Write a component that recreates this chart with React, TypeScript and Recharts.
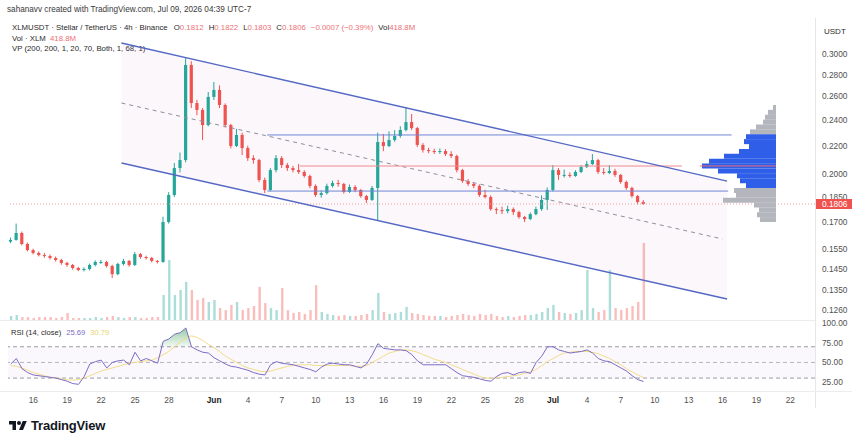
import React from 'react';
import {
  ComposedChart,
  BarChart,
  Bar,
  Line,
  Area,
  XAxis,
  YAxis,
  ReferenceLine,
  ReferenceArea,
  Cell,
} from 'recharts';

// 12h candles, time in days from May 16
const START_DAY = -2;
const STEP_DAYS = 0.5;
const FIRST_OPEN = 0.159;

const closes = [
  0.1599, 0.1637, 0.1577, 0.1545, 0.153, 0.1519, 0.1514, 0.1504, 0.1494, 0.1479,
  0.1469, 0.1454, 0.1444, 0.1449, 0.1469, 0.1484, 0.1484, 0.1464, 0.1424, 0.1474,
  0.1489, 0.1469, 0.1524, 0.1509, 0.1504, 0.1489, 0.1484, 0.1699, 0.1862, 0.204,
  0.2096, 0.2893, 0.2543, 0.2484, 0.236, 0.2596, 0.2658, 0.2526, 0.236, 0.2198,
  0.2282, 0.2183, 0.211, 0.2096, 0.1959, 0.1894, 0.2026, 0.211, 0.2061, 0.204,
  0.2026, 0.2013, 0.1986, 0.192, 0.1862, 0.1874, 0.192, 0.1939, 0.1933, 0.1881,
  0.1913, 0.1894, 0.1855, 0.1831, 0.1907, 0.2228, 0.2198, 0.2243, 0.2274, 0.2321,
  0.2384, 0.2336, 0.2206, 0.2168, 0.2161, 0.2154, 0.2161, 0.2139, 0.2125, 0.2026,
  0.1952, 0.1933, 0.192, 0.1862, 0.1849, 0.1775, 0.1769, 0.1763, 0.1775, 0.1757,
  0.1728, 0.1716, 0.1745, 0.1775, 0.1831, 0.1894, 0.2026, 0.1993, 0.1993, 0.1986,
  0.2013, 0.2047, 0.2068, 0.2096, 0.2013, 0.2006, 0.202, 0.1993, 0.1946, 0.1907,
  0.1855, 0.1818, 0.1806,
];

const highs = [
  0.1612, 0.169, 0.1645, 0.1585, 0.1552, 0.1538, 0.153, 0.1522, 0.1512, 0.15,
  0.1485, 0.1474, 0.146, 0.1457, 0.1476, 0.1492, 0.1494, 0.149, 0.147, 0.148,
  0.15, 0.1494, 0.1535, 0.153, 0.1516, 0.151, 0.1494, 0.173, 0.188, 0.2075,
  0.215, 0.2962, 0.293, 0.257, 0.25, 0.264, 0.2731, 0.27, 0.254, 0.237,
  0.233, 0.23, 0.22, 0.213, 0.2105, 0.1975, 0.204, 0.2132, 0.2125, 0.2075,
  0.2055, 0.2068, 0.2025, 0.1995, 0.193, 0.189, 0.1935, 0.1955, 0.196, 0.194,
  0.193, 0.1925, 0.19, 0.1862, 0.192, 0.23, 0.229, 0.231, 0.232, 0.235,
  0.2509, 0.245, 0.2345, 0.222, 0.2185, 0.2178, 0.218, 0.2175, 0.216, 0.2135,
  0.2035, 0.1965, 0.1945, 0.193, 0.1895, 0.186, 0.1785, 0.179, 0.1795, 0.1785,
  0.1765, 0.1735, 0.1755, 0.179, 0.186, 0.191, 0.2061, 0.204, 0.203, 0.201,
  0.2025, 0.206, 0.209, 0.2139, 0.2105, 0.204, 0.206, 0.2035, 0.2, 0.1955,
  0.1915, 0.1862, 0.183,
];

const lows = [
  0.1582, 0.1595, 0.157, 0.1538, 0.1522, 0.1512, 0.1505, 0.1496, 0.1486, 0.147,
  0.146, 0.1446, 0.1438, 0.1437, 0.1442, 0.1462, 0.1474, 0.1456, 0.1405, 0.1418,
  0.1466, 0.146, 0.1464, 0.15, 0.1496, 0.1482, 0.1476, 0.148, 0.169, 0.185,
  0.201, 0.208, 0.25, 0.244, 0.2243, 0.235, 0.257, 0.25, 0.234, 0.218,
  0.219, 0.2132, 0.209, 0.207, 0.1945, 0.1874, 0.1885, 0.201, 0.204, 0.202,
  0.201, 0.2, 0.1975, 0.1905, 0.185, 0.1845, 0.1865, 0.191, 0.1915, 0.187,
  0.1875, 0.188, 0.1845, 0.1812, 0.1825, 0.171, 0.216, 0.219, 0.223, 0.226,
  0.231, 0.232, 0.219, 0.215, 0.2145, 0.214, 0.214, 0.2125, 0.211, 0.201,
  0.194, 0.192, 0.1905, 0.185, 0.184, 0.1765, 0.1745, 0.1745, 0.175, 0.174,
  0.1718, 0.1699, 0.171, 0.1738, 0.1765, 0.177, 0.1885, 0.196, 0.1975, 0.1975,
  0.198, 0.2005, 0.204, 0.206, 0.2, 0.1995, 0.1998, 0.198, 0.1935, 0.1895,
  0.1845, 0.1803, 0.18,
];

// volume in millions of XLM
const volumes = [
  22, 27, 16, 16, 11, 16, 16, 16, 11, 16, 38, 11, 11, 11, 11, 16, 11, 16, 22, 16,
  11, 16, 16, 11, 11, 16, 16, 136, 326, 136, 163, 207, 163, 109, 120, 98, 109, 65, 54, 82,
  98, 54, 65, 76, 180, 92, 65, 54, 174, 54, 38, 44, 33, 54, 190, 44, 33, 27, 22, 27,
  22, 22, 27, 33, 54, 147, 44, 33, 38, 44, 71, 38, 33, 27, 22, 22, 22, 16, 22, 27,
  33, 27, 22, 33, 27, 33, 22, 16, 22, 16, 22, 27, 27, 33, 44, 65, 82, 44, 38, 33,
  38, 54, 272, 65, 44, 54, 272, 65, 54, 65, 76, 98, 418.8,
];

const rsiValues = [
  48, 55, 42, 37, 34, 33, 32, 31, 30, 28, 26, 23, 22, 32, 48, 51, 53, 43, 50, 52,
  53, 47, 63, 52, 55, 52, 49, 77, 80, 86, 88, 94, 70, 66, 63, 62, 56, 52, 48, 45,
  44, 42, 40, 37, 35, 34, 47, 51, 49, 48, 47, 45, 43, 41, 38, 44, 48, 49, 48, 47,
  47, 45, 43, 48, 60, 74, 68, 67, 66, 66, 65, 60, 52, 47, 47, 47, 47, 47, 42, 37,
  33, 32, 31, 29, 27, 26, 32, 36, 37, 34, 37, 38, 36, 50, 58, 70, 70, 66, 64, 62,
  63, 64, 66, 62, 55, 52, 51, 47, 43, 39, 33, 28, 25.69,
];

const rsiMaValues = [
  46, 45, 43, 40, 37, 35, 33, 31, 30, 29, 28, 27.5, 28, 30, 33, 36, 39, 41, 43, 45,
  47, 49, 50, 51, 52, 53, 56, 60, 64, 70, 76, 81, 84, 82, 78, 73, 69, 64, 58, 54,
  50, 46, 43, 41, 39, 38, 39, 41, 43, 45, 46, 47, 47, 47, 46, 46, 46, 46, 46, 46,
  46, 45, 45, 46, 50, 54, 58, 62, 64, 66, 66, 65, 63, 60, 57, 54, 52, 50, 47, 44,
  41, 38, 35, 32, 30, 30, 30, 31, 32, 33, 34, 36, 38, 41, 46, 51, 55, 59, 62, 63,
  64, 64, 64, 63, 61, 58, 55, 51, 47, 42, 38, 34, 30.79,
];

const dayTicks = [0, 3, 6, 9, 12, 16, 19, 22, 25, 28, 31, 34, 37, 40, 43, 46, 49, 52, 55, 58, 61, 64, 67];
const dayLabels = ['16', '19', '22', '25', '28', 'Jun', '4', '7', '10', '13', '16', '19', '22', '25', '28', 'Jul', '4', '7', '10', '13', '16', '19', '22'];

const LAST_PRICE = 0.1806;
const priceTicks = [0.3, 0.28, 0.26, 0.24, 0.22, 0.2, 0.185, LAST_PRICE, 0.17, 0.155, 0.145, 0.135, 0.126];
const rsiTicks = [25, 50, 75, 100];

// drawings: channel (day, price)
const channelTop = [{ x: 7.8, y: 0.3117 }, { x: 61.4, y: 0.1952 }];
const channelBottom = [{ x: 7.8, y: 0.2075 }, { x: 61.4, y: 0.1309 }];
const channelMid = [{ x: 7.8, y: 0.2543 }, { x: 61.0, y: 0.1604 }];
const levelHigh = { price: 0.2282, from: 20.7, to: 61.8 };
const levelMid = { price: 0.2054, from: 23.6, to: 57.4 };
const levelLow = { price: 0.1887, from: 20.7, to: 61.5 };

// volume profile rows, top to bottom
const vpPrices = [
  '0.2506', '0.2464', '0.2424', '0.2384', '0.2345', '0.2307', '0.2269', '0.2232',
  '0.2195', '0.2159', '0.2124', '0.2089', '0.2055', '0.2021', '0.1988', '0.1956',
  '0.1924', '0.1892', '0.1861', '0.1831', '0.1800', '0.1771', '0.1742', '0.1713',
];
const vpVolumes = [3, 8, 11, 13, 20, 26, 30, 32, 27, 37, 52, 67, 74, 58, 39, 36, 30, 42, 40, 53, 22, 17, 19, 16];
const vpInValueArea = [0, 0, 0, 0, 0, 0, 1, 1, 1, 1, 1, 1, 1, 1, 1, 1, 1, 0, 0, 0, 0, 0, 0, 0];
const VP_POC = '0.2055';

const X_DOMAIN = [-2.24, 69.18];
const PRICE_DOMAIN = [0.1219, 0.3392];
const UP = '#26a69a';
const DOWN = '#ef5350';
const FONT = '"Liberation Sans", Arial, sans-serif';

const data = closes.map((c, i) => ({
  t: START_DAY + i * STEP_DAYS,
  o: i === 0 ? FIRST_OPEN : closes[i - 1],
  h: highs[i],
  l: lows[i],
  c,
  vol: volumes[i],
  rsi: rsiValues[i],
  rsiMa: rsiMaValues[i],
}));

const vpData = vpPrices.map((p, i) => ({ price: p, vol: vpVolumes[i], va: vpInValueArea[i] }));

function Candle(props: any) {
  const { x, y, width, height, payload } = props;
  if (!payload || height == null) return null;
  const top = height < 0 ? y + height : y;
  const span = Math.abs(height);
  const { o, h, l, c } = payload;
  const color = c >= o ? UP : DOWN;
  const lh = Math.log(h);
  const ll = Math.log(l);
  const toY = (p: number) => top + ((lh - Math.log(p)) / (lh - ll)) * span;
  const bTop = toY(Math.max(o, c));
  const bBot = toY(Math.min(o, c));
  const cx = x + width / 2;
  return (
    <g>
      <line x1={cx} x2={cx} y1={top} y2={top + span} stroke={color} strokeWidth={1} />
      <rect x={x} y={bTop} width={width} height={Math.max(1, bBot - bTop)} fill={color} />
    </g>
  );
}

function ChannelFill(props: any) {
  const { x, y, width, height } = props;
  const lt = Math.log(channelTop[0].y);
  const lb = Math.log(channelBottom[1].y);
  const toY = (p: number) => y + ((lt - Math.log(p)) / (lt - lb)) * height;
  const pts = [
    [x, y],
    [x + width, toY(channelTop[1].y)],
    [x + width, y + height],
    [x, toY(channelBottom[0].y)],
  ];
  return <polygon points={pts.map((p) => p.join(',')).join(' ')} fill="rgba(214, 170, 214, 0.09)" />;
}

function PriceTick(props: any) {
  const { x, y, payload } = props;
  const v = payload.value as number;
  if (v === LAST_PRICE) {
    return (
      <g>
        <rect x={x - 6} y={y - 5} width={36} height={10} fill="#ef5350" />
        <text x={x} y={y} dy="0.35em" fontSize={8.3} fill="#ffffff" fontFamily={FONT}>
          {v.toFixed(4)}
        </text>
      </g>
    );
  }
  return (
    <text x={x} y={y} dy="0.35em" fontSize={8.3} fill="#505050" fontFamily={FONT}>
      {v.toFixed(4)}
    </text>
  );
}

function DateTick(props: any) {
  const { x, y, payload } = props;
  const idx = dayTicks.indexOf(payload.value);
  const label = dayLabels[idx] ?? '';
  const bold = label === 'Jun' || label === 'Jul';
  return (
    <text x={x} y={y} dy="0.71em" textAnchor="middle" fontSize={8.3} fill={bold ? '#222' : '#505050'} fontWeight={bold ? 700 : 400} fontFamily={FONT}>
      {label}
    </text>
  );
}

const red = { color: '#ec6f74' };

export default function App() {
  return (
    <div style={{ position: 'absolute', left: 0, top: 0, width: 860, height: 447, background: '#fff', overflow: 'hidden', fontFamily: FONT }}>
      {/* header */}
      <div style={{ position: 'absolute', left: 7, top: 5, fontSize: 8.2, color: '#3a3a3a', whiteSpace: 'nowrap' }}>
        sahanavv created with TradingView.com, Jul 09, 2026 04:39 UTC-7
      </div>
      <div style={{ position: 'absolute', left: 12, top: 23, fontSize: 7.8, color: '#2a2a2a', whiteSpace: 'nowrap' }}>
        XLMUSDT · Stellar / TetherUS · 4h · Binance
        <span style={{ marginLeft: 6 }}>O</span><span style={red}>0.1812</span>
        <span style={{ marginLeft: 5 }}>H</span><span style={red}>0.1822</span>
        <span style={{ marginLeft: 5 }}>L</span><span style={red}>0.1803</span>
        <span style={{ marginLeft: 5 }}>C</span><span style={red}>0.1806</span>
        <span style={{ marginLeft: 5, ...red }}>−0.0007 (−0.39%)</span>
        <span style={{ marginLeft: 5 }}>Vol</span><span style={red}>418.8M</span>
      </div>
      <div style={{ position: 'absolute', left: 12, top: 34, fontSize: 7.8, color: '#2a2a2a', whiteSpace: 'nowrap' }}>
        Vol · XLM <span style={{ marginLeft: 2, ...red }}>418.8M</span>
      </div>
      <div style={{ position: 'absolute', left: 12, top: 44, fontSize: 7.8, color: '#2a2a2a', whiteSpace: 'nowrap' }}>
        VP (200, 200, 1, 20, 70, Both, 1, 68, 1)
      </div>
      <div style={{ position: 'absolute', left: 824, top: 27, fontSize: 8, color: '#2a2a2a' }}>USDT</div>

      {/* price pane */}
      <div style={{ position: 'absolute', left: 0, top: 0 }}>
        <ComposedChart width={860} height={320} data={data} margin={{ top: 18, right: 0, left: 8, bottom: 0 }}>
          <XAxis dataKey="t" type="number" domain={X_DOMAIN} ticks={dayTicks} hide allowDataOverflow />
          <XAxis xAxisId="v" dataKey="t" type="number" domain={X_DOMAIN} ticks={dayTicks} hide allowDataOverflow />
          <YAxis
            orientation="right"
            scale="log"
            domain={PRICE_DOMAIN}
            ticks={priceTicks}
            tick={<PriceTick />}
            tickLine={false}
            axisLine={false}
            tickMargin={1}
            width={45}
            interval={0}
            allowDataOverflow
          />
          <YAxis yAxisId="vol" hide domain={[0, 1642]} />
          <ReferenceArea
            x1={channelTop[0].x}
            x2={channelTop[1].x}
            y1={channelBottom[1].y}
            y2={channelTop[0].y}
            shape={<ChannelFill />}
          />
          <Bar xAxisId="v" yAxisId="vol" dataKey="vol" barSize={2.4} isAnimationActive={false}>
            {data.map((d, i) => (
              <Cell key={i} fill={d.c >= d.o ? 'rgba(38,166,154,0.38)' : 'rgba(239,83,80,0.38)'} />
            ))}
          </Bar>
          <ReferenceLine segment={channelMid} stroke="#8d909b" strokeDasharray="4 4" strokeWidth={1} />
          <ReferenceLine segment={[{ x: levelHigh.from, y: levelHigh.price }, { x: levelHigh.to, y: levelHigh.price }]} stroke="#6f86d6" strokeWidth={1} />
          <ReferenceLine segment={[{ x: levelMid.from, y: levelMid.price }, { x: levelMid.to, y: levelMid.price }]} stroke="#ef8a8e" strokeWidth={1} />
          <ReferenceLine segment={[{ x: levelLow.from, y: levelLow.price }, { x: levelLow.to, y: levelLow.price }]} stroke="#6f86d6" strokeWidth={1} />
          <ReferenceLine y={LAST_PRICE} stroke="#f0a0a0" strokeDasharray="1 2" strokeWidth={1} />
          <Bar dataKey={(d: any) => [d.l, d.h]} barSize={3.2} shape={<Candle />} isAnimationActive={false} />
          <ReferenceLine segment={channelTop} stroke="#5468c4" strokeWidth={1.4} />
          <ReferenceLine segment={channelBottom} stroke="#5468c4" strokeWidth={1.4} />
        </ComposedChart>
      </div>

      {/* volume profile */}
      <div style={{ position: 'absolute', left: 700, top: 105 }}>
        <BarChart width={76} height={117} data={vpData} layout="vertical" margin={{ top: 0, right: 0, left: 0, bottom: 0 }} barCategoryGap={0} barGap={0}>
          <XAxis type="number" domain={[0, 76]} reversed hide />
          <YAxis type="category" dataKey="price" hide />
          <Bar dataKey="vol" isAnimationActive={false}>
            {vpData.map((d, i) => (
              <Cell key={i} fill={d.va ? '#2f5fe8' : '#b4b6bd'} />
            ))}
          </Bar>
          <ReferenceLine y={VP_POC} stroke="#ef6b70" strokeWidth={1} />
        </BarChart>
      </div>

      {/* pane borders */}
      <div style={{ position: 'absolute', left: 815, top: 18, width: 1, height: 390, background: '#e6e7ea' }} />
      <div style={{ position: 'absolute', left: 0, top: 320, width: 815, height: 1, background: '#ececef' }} />
      <div style={{ position: 'absolute', left: 0, top: 391, width: 852, height: 1, background: '#ececef' }} />

      {/* RSI pane */}
      <div style={{ position: 'absolute', left: 0, top: 310 }}>
        <ComposedChart width={860} height={100} data={data} margin={{ top: 10, right: 0, left: 8, bottom: 0 }}>
          <defs>
            <linearGradient id="obFill" x1="0" y1="0" x2="0" y2="1">
              <stop offset="0%" stopColor="#2e9b4f" stopOpacity={0.85} />
              <stop offset="100%" stopColor="#2e9b4f" stopOpacity={0.1} />
            </linearGradient>
          </defs>
          <XAxis
            dataKey="t"
            type="number"
            domain={X_DOMAIN}
            ticks={dayTicks}
            tick={<DateTick />}
            tickLine={false}
            axisLine={false}
            tickMargin={0}
            height={19}
            interval={0}
            allowDataOverflow
          />
          <YAxis
            orientation="right"
            domain={[13.5, 104.2]}
            ticks={rsiTicks}
            tickFormatter={(v: number) => v.toFixed(2)}
            tick={{ fontSize: 8.3, fill: '#505050', fontFamily: FONT }}
            tickLine={false}
            axisLine={false}
            tickMargin={1}
            width={45}
            interval={0}
            allowDataOverflow
          />
          <ReferenceArea y1={30} y2={70} fill="rgba(126,87,194,0.08)" />
          <ReferenceLine y={70} stroke="#9a9ca6" strokeDasharray="4 3" />
          <ReferenceLine y={50} stroke="#b5b7bf" strokeDasharray="4 3" />
          <ReferenceLine y={30} stroke="#9a9ca6" strokeDasharray="4 3" />
          <Area
            dataKey={(d: any) => [70, Math.max(70, d.rsi)]}
            stroke="none"
            fill="url(#obFill)"
            isAnimationActive={false}
          />
          <Line dataKey="rsiMa" stroke="#f3dc8a" strokeWidth={1} dot={false} isAnimationActive={false} />
          <Line dataKey="rsi" stroke="#7e6cc4" strokeWidth={1} dot={false} isAnimationActive={false} />
        </ComposedChart>
      </div>
      <div style={{ position: 'absolute', left: 11, top: 328, fontSize: 7.6, color: '#2a2a2a', whiteSpace: 'nowrap' }}>
        RSI (14, close)
        <span style={{ marginLeft: 5, color: '#7e6cc4' }}>25.69</span>
        <span style={{ marginLeft: 5, color: '#e8d36a' }}>30.79</span>
      </div>

      {/* watermark logo */}
      <div style={{ position: 'absolute', left: 7, top: 419 }}>
        <svg width={22} height={14} viewBox="0 0 36 28">
          <path d="M14 22H7V11H0V4h14v18z" fill="#131722" />
          <circle cx={20} cy={8} r={4} fill="#131722" />
          <path d="M28 22h-8l7.5-18h8L28 22z" fill="#131722" />
        </svg>
      </div>
      <div style={{ position: 'absolute', left: 31, top: 418, fontSize: 13, fontWeight: 700, color: '#131722', letterSpacing: -0.2 }}>
        TradingView
      </div>
    </div>
  );
}
